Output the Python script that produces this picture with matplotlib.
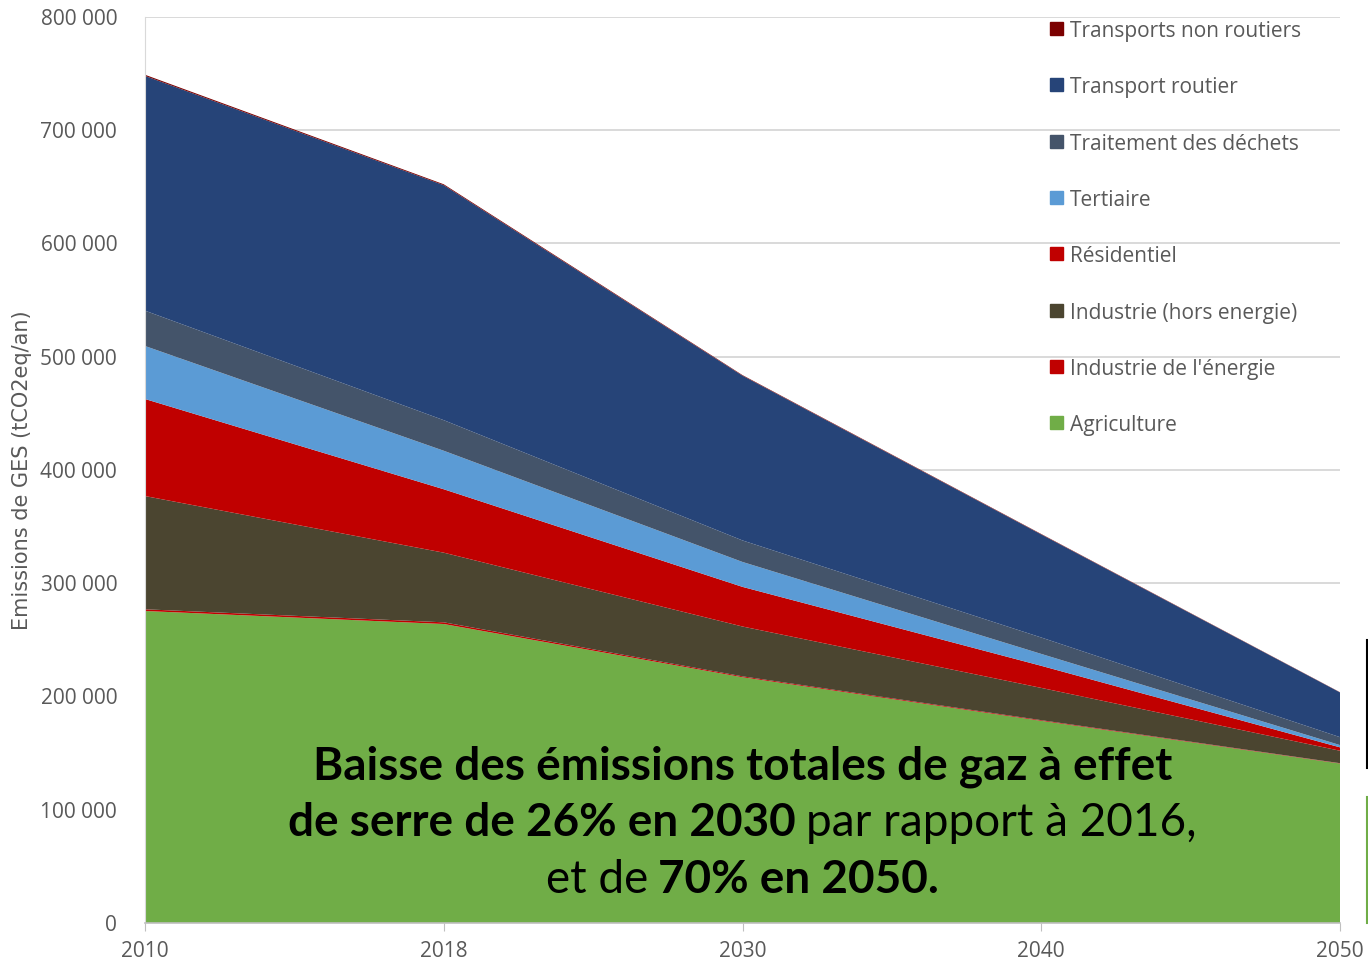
import matplotlib

matplotlib.use("Agg")
import matplotlib.pyplot as plt
import numpy as np
from matplotlib.lines import Line2D
from matplotlib.patches import Rectangle

# Data (tCO2eq/an)
years = ["2010", "2018", "2030", "2040", "2050"]
agriculture = [275500, 264000, 217000, 178500, 140800]
industrie_energie = [1500, 1500, 800, 600, 300]
industrie_hors_energie = [100000, 61500, 44000, 28500, 11000]
residentiel = [85700, 56000, 35000, 19500, 3000]
tertiaire = [46800, 34000, 22000, 10500, 2000]
dechets = [31200, 27000, 19000, 14500, 7000]
transport_routier = [207300, 207500, 145500, 91000, 39500]
transports_non_routiers = [1000, 800, 500, 400, 200]

series = [
    ("Agriculture", agriculture, "#70AD47"),
    ("Industrie de l'énergie", industrie_energie, "#C00000"),
    ("Industrie (hors energie)", industrie_hors_energie, "#4B4530"),
    ("Résidentiel", residentiel, "#C00000"),
    ("Tertiaire", tertiaire, "#5B9BD5"),
    ("Traitement des déchets", dechets, "#44546A"),
    ("Transport routier", transport_routier, "#264478"),
    ("Transports non routiers", transports_non_routiers, "#7B0000"),
]

W, H = 1368, 965
fig = plt.figure(figsize=(W / 100, H / 100), dpi=100)
ax = fig.add_axes([145 / W, 42 / H, 1195 / W, 906 / H])

x = np.arange(len(years))
ax.stackplot(
    x,
    *[s[1] for s in series],
    colors=[s[2] for s in series],
    linewidth=0,
    zorder=2,
)

ax.set_xlim(0, len(years) - 1)
ax.set_ylim(0, 800000)
ax.set_yticks(np.arange(0, 800001, 100000))
ax.set_yticklabels([f"{v:,}".replace(",", " ") for v in range(0, 800001, 100000)])
ax.set_xticks(x)
ax.set_xticklabels(years)

ax.grid(axis="y", color="#D9D9D9", linewidth=1.4, zorder=0)
ax.set_axisbelow(True)
for side in ["top", "right"]:
    ax.spines[side].set_visible(False)
ax.spines["left"].set_color("#D9D9D9")
ax.spines["bottom"].set_color("#BFBFBF")
ax.spines["bottom"].set_linewidth(1.2)
ax.tick_params(axis="y", length=0, pad=20, labelsize=15, labelcolor="#595959")
ax.tick_params(axis="x", length=6, color="#BFBFBF", pad=7, labelsize=15,
               labelcolor="#595959")
for lab in ax.get_yticklabels() + ax.get_xticklabels():
    lab.set_family(["Open Sans", "DejaVu Sans"])

fig.text(22 / W, 1 - 470 / H, "Emissions de GES (tCO2eq/an)", rotation=90,
         ha="center", va="center", fontsize=15, color="#595959",
         family=["Liberation Sans Narrow", "DejaVu Sans"])

# Legend, top to bottom
legend_y = [28, 84.5, 141, 197, 253.5, 310, 366, 422.5]
for (label, _, color), ypx in zip(series[::-1], legend_y):
    fig.patches.append(Rectangle((1050 / W, 1 - (ypx + 6.5) / H), 13 / W, 13 / H,
                                 transform=fig.transFigure, color=color))
    fig.text(1070 / W, 1 - (ypx + 3) / H, label, ha="left", va="center", fontsize=15,
             color="#595959", family=["Open Sans", "DejaVu Sans"])

# Mixed-weight annotation, centred on 2030
lines = [
    (767, [("Baisse des émissions totales de gaz à effet", "bold")]),
    (823, [("de serre de 26% en 2030", "bold"), ("par rapport à 2016,", "normal")]),
    (880, [("et de", "normal"), ("70% en 2050.", "bold")]),
]
size = 33
renderer = fig.canvas.get_renderer()
cx = ax.transData.transform((2, 0))[0]
for ypx, parts in lines:
    texts = [fig.text(0, 1 - ypx / H, s, fontsize=size, fontweight=w,
                      family=["Lato", "DejaVu Sans"], va="center", ha="left",
                      color="black") for s, w in parts]
    widths = [t.get_window_extent(renderer).width for t in texts]
    gap = size * 0.3
    total = sum(widths) + gap * (len(texts) - 1)
    xpos = cx - total / 2
    for t, w in zip(texts, widths):
        t.set_x(xpos / W)
        xpos += w + gap

# clipped neighbouring graphic at the right edge
fig.add_artist(Line2D([1366.5 / W] * 2, [1 - 640 / H, 1 - 768 / H], color="black",
                      linewidth=1.5, transform=fig.transFigure))
fig.add_artist(Line2D([1366.5 / W] * 2, [1 - 797 / H, 1 - 923 / H], color="#70AD47",
                      linewidth=1.5, transform=fig.transFigure))

fig.savefig("out.png", dpi=100)
